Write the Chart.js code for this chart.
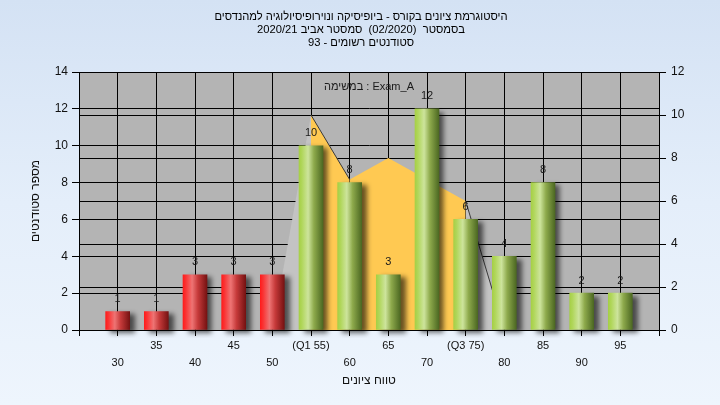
<!DOCTYPE html>
<html><head><meta charset="utf-8">
<script src="https://cdn.jsdelivr.net/npm/chart.js@4.4.1/dist/chart.umd.min.js"></script>
<style>
html,body{margin:0;padding:0;width:720px;height:405px;overflow:hidden;background:linear-gradient(180deg,#d4e2f4 0%,#e4eefa 50%,#eef5fd 100%);}
#wrap{width:720px;height:405px;position:relative;}
</style></head><body><div id="wrap"><canvas id="c"></canvas></div>
<script>
const titleLines = [
  'היסטוגרמת ציונים בקורס - ביופיסיקה ונוירופיסיולוגיה למהנדסים',
  'בסמסטר  (02/2020)  סמסטר אביב 2020/21',
  'סטודנטים רשומים - 93'
];
const innerLabel = 'במשימה : Exam_A';
const xTitle = 'טווח ציונים';
const yTitle = 'מספר סטודנטים';
const categories = [30,35,40,45,50,55,60,65,70,75,80,85,90,95];
const tickLabels = ['30','35','40','45','50','(Q1 55)','60','65','70','(Q3 75)','80','85','90','95'];
const counts = [1,1,3,3,3,10,8,3,12,6,4,8,2,2];
const distribution = [null,null,null,null,0,10,7,8,7,6,0,null,null,null];
const passGrade = 55;
const q1 = 55, q3 = 75;
const leftMax = 14, rightMax = 12, tickStep = 2;

const paddedCats = [null, ...categories, null];
const paddedLabels = ['', ...tickLabels, ''];
const paddedCounts = [null, ...counts, null];
const paddedDist = [null, ...distribution, null];

const BAR_W = 24;
function barGradient(ctx) {
  const chart = ctx.chart;
  const ca = chart.chartArea;
  const cat = paddedCats[ctx.dataIndex];
  const red = cat !== null && cat < passGrade;
  if (!ca || !chart.scales.x) return red ? '#e03030' : '#a0c050';
  const x = chart.scales.x.getPixelForValue(ctx.dataIndex);
  const g = chart.ctx.createLinearGradient(x - BAR_W/2, 0, x + BAR_W/2, 0);
  if (red) {
    g.addColorStop(0, '#ff1c1c');
    g.addColorStop(0.12, '#fa3434');
    g.addColorStop(0.38, '#ee7474');
    g.addColorStop(0.62, '#c63a3a');
    g.addColorStop(1, '#761212');
  } else {
    g.addColorStop(0, '#a6d046');
    g.addColorStop(0.12, '#b0d65a');
    g.addColorStop(0.38, '#cde49c');
    g.addColorStop(0.62, '#8eaa4c');
    g.addColorStop(1, '#4c6822');
  }
  return g;
}

const plotBg = {
  id: 'plotBg',
  beforeDraw(chart) {
    const {ctx, chartArea: a} = chart;
    ctx.save();
    ctx.fillStyle = '#b4b4b4';
    ctx.fillRect(a.left, a.top, a.right - a.left, a.bottom - a.top);
    ctx.restore();
  }
};
const barShadow = {
  id: 'barShadow',
  beforeDatasetDraw(chart, args) {
    if (args.meta.type !== 'bar') return;
    const c = chart.ctx;
    c.save();
    c.shadowColor = 'rgba(0,0,0,0.6)';
    c.shadowBlur = 5;
    c.shadowOffsetX = 5;
    c.shadowOffsetY = 3;
  },
  afterDatasetDraw(chart, args) {
    if (args.meta.type !== 'bar') return;
    chart.ctx.restore();
  }
};
const FONT = '"Liberation Sans", "DejaVu Sans", sans-serif';
const texts = {
  id: 'texts',
  afterDatasetsDraw(chart) {
    const {ctx, chartArea: a} = chart;
    ctx.save();
    const meta = chart.getDatasetMeta(1);
    ctx.font = '11px ' + FONT;
    ctx.fillStyle = '#1a1a1a';
    ctx.textAlign = 'center';
    ctx.textBaseline = 'middle';
    meta.data.forEach((el, i) => {
      const v = paddedCounts[i];
      if (v === null || v === undefined) return;
      ctx.fillText(String(v), el.x, el.y - 12.5);
    });
    ctx.direction = 'ltr';
    ctx.font = '11px ' + FONT;
    ctx.fillText(innerLabel, (a.left + a.right) / 2, a.top + 15);
    ctx.direction = 'rtl';
    ctx.fillStyle = '#000';
    ctx.font = '11.2px ' + FONT;
    titleLines.forEach((t, i) => ctx.fillText(t, 361, 17 + i * 13));
    ctx.restore();
  }
};

const tickFont = {family: FONT, size: 12};

new Chart(document.getElementById('c'), {
  data: {
    labels: paddedLabels,
    datasets: [
      {
        type: 'line',
        data: paddedDist,
        yAxisID: 'y2',
        order: 2,
        fill: 'origin',
        tension: 0,
        pointRadius: 0,
        borderWidth: 1,
        borderColor: 'rgba(0,0,0,0)',
        backgroundColor: '#c3c3c3',
        spanGaps: false,
        segment: {
          backgroundColor: c => { const v = paddedCats[c.p0DataIndex]; return (v >= q1 && v < q3) ? '#ffc952' : '#c3c3c3'; },
          borderColor: c => { const v = paddedCats[c.p0DataIndex]; return (v === q1 || v === q3) ? '#3a3a3a' : 'rgba(0,0,0,0)'; }
        }
      },
      {
        type: 'bar',
        data: paddedCounts,
        yAxisID: 'y',
        order: 1,
        barThickness: BAR_W,
        backgroundColor: barGradient,
        borderWidth: 0,
        clip: {left: 0, top: 0, right: 10, bottom: 8}
      }
    ]
  },
  options: {
    responsive: true,
    maintainAspectRatio: false,
    animation: false,
    events: [],
    layout: {padding: {top: 72, left: 0, right: 0, bottom: 0}},
    plugins: {legend: {display: false}, tooltip: {enabled: false}, title: {display: false}},
    scales: {
      x: {
        type: 'category',
        offset: false,
        grid: {color: '#000', lineWidth: 1, tickLength: 6, tickColor: '#000', offset: false},
        border: {color: '#000'},
        ticks: {
          autoSkip: false, maxRotation: 0, minRotation: 0, padding: 1, color: '#111',
          font: {family: FONT, size: 11, lineHeight: '17px'},
          callback: (v, i) => {
            const lab = paddedLabels[i];
            if (!lab) return '';
            return ((i - 1) % 2 === 1) ? [lab] : ['', lab];
          }
        },
        title: {display: true, text: xTitle, color: '#111', font: {family: FONT, size: 12}, padding: {top: 0, bottom: 17}},
        afterFit: s => { s.height = 75; }
      },
      y: {
        position: 'left',
        min: 0, max: leftMax,
        grid: {color: '#000', lineWidth: 1, tickLength: 7},
        border: {color: '#000'},
        ticks: {stepSize: tickStep, padding: 4, color: '#111', font: tickFont},
        title: {display: true, text: yTitle, color: '#111', font: {family: FONT, size: 12}, padding: {top: 28}},
        afterFit: s => { s.width = 79; }
      },
      y2: {
        position: 'right',
        min: 0, max: rightMax,
        grid: {color: '#000', lineWidth: 1, tickLength: 7, drawOnChartArea: true},
        border: {color: '#000'},
        ticks: {stepSize: tickStep, padding: 5, color: '#111', font: tickFont},
        afterFit: s => { s.width = 61; }
      }
    }
  },
  plugins: [plotBg, barShadow, texts]
});
</script></body></html>
